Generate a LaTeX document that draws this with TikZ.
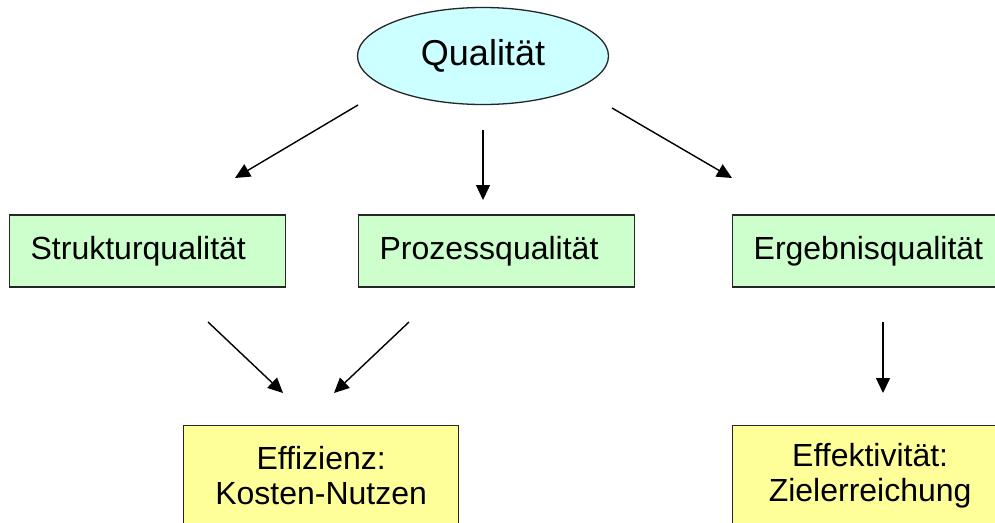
\documentclass[tikz,border=0pt]{standalone}
\usepackage{fontspec}
\setmainfont{Liberation Sans}
\usetikzlibrary{arrows.meta,shapes.geometric}
\definecolor{qcyan}{HTML}{CCFFFF}
\definecolor{qgreen}{HTML}{CCFFCC}
\definecolor{qyellow}{HTML}{FFFF99}
\tikzset{
  boxline/.style={draw=black!85, line width=1.3pt},
  topnode/.style={boxline, ellipse, fill=qcyan, minimum width=251pt, minimum height=97pt, inner sep=0pt,
    font=\fontsize{36}{40}\selectfont},
  greenbox/.style={boxline, rectangle, fill=qgreen, minimum height=72pt, text width=234pt, inner xsep=21pt,
    inner ysep=0pt, align=left, anchor=west, font=\fontsize{32}{35}\selectfont},
  yellowbox/.style={boxline, rectangle, fill=qyellow, minimum height=100pt, text width=233pt, inner xsep=21pt,
    inner ysep=0pt, align=center, anchor=north west, font=\fontsize{32}{35}\selectfont},
  flow/.style={line width=1.4pt, -{Triangle[length=15pt,width=14pt]}}
}
\begin{document}
\begin{tikzpicture}[x=1pt,y=-1pt]
  \useasboundingbox (0,0) rectangle (995,522);
  \clip (0,0) rectangle (995,522);
  \fill[white] (0,0) rectangle (995,522);

  % top concept
  \node[topnode] (qual) at (483,56) {Qualität};

  % the three quality dimensions
  \node[greenbox] (struk) at (9,251) {Strukturqualität};
  \node[greenbox] (proz)  at (358,251) {Prozessqualität};
  \node[greenbox] (ergeb) at (732,251) {Ergebnisqualität};

  % outcomes
  \node[yellowbox] (effiz) at (183,425) {Effizienz:\\Kosten-Nutzen};
  \node[yellowbox] (effek) at (732,425) {Effektivität:\\Zielerreichung};

  % arrow end points
  \coordinate (a1s) at (358,105);  \coordinate (a1e) at (235,178);
  \coordinate (a2s) at (483,130);  \coordinate (a2e) at (483,200);
  \coordinate (a3s) at (612,108);  \coordinate (a3e) at (732,178);
  \coordinate (a4s) at (208,322);  \coordinate (a4e) at (283,393);
  \coordinate (a5s) at (409,322);  \coordinate (a5e) at (334,393);
  \coordinate (a6s) at (883,322);  \coordinate (a6e) at (883,393);

  \draw[flow] (a1s) -- (a1e);
  \draw[flow] (a2s) -- (a2e);
  \draw[flow] (a3s) -- (a3e);
  \draw[flow] (a4s) -- (a4e);
  \draw[flow] (a5s) -- (a5e);
  \draw[flow] (a6s) -- (a6e);
\end{tikzpicture}
\end{document}
